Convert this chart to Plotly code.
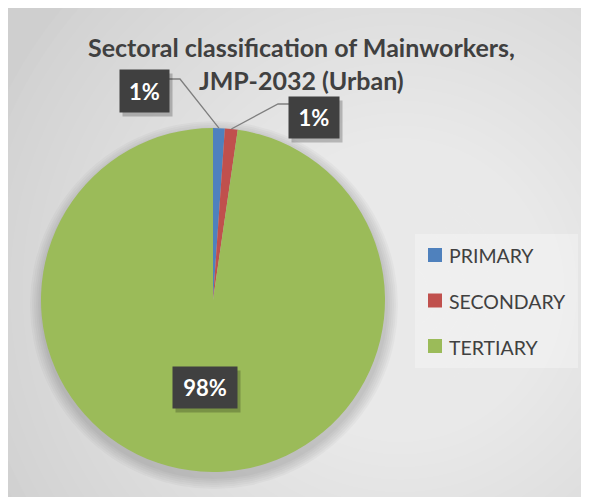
import math

import plotly.graph_objects as go

# Data
LABELS = ["PRIMARY", "SECONDARY", "TERTIARY"]
VALUES = [1.1, 1.2, 97.7]
COLORS = ["#4F81BD", "#C0504D", "#9BBB59"]
TITLE_LINES = ["Sectoral classification of Mainworkers,", "JMP-2032 (Urban)"]

# Canvas geometry (page pixels; the page body adds an 8px offset)
W, H = 589, 497
OFF = 8
CX, CY, R = 213, 300, 172
TEXT = "#404040"
FONT = "Lato, 'Open Sans', sans-serif"


def px(x):
    return (x - OFF) / W


def py(y):
    return 1 - (y - OFF) / H


shapes = []

# soft radial gradient on the chart area
GX, GY = 400, 290
for i in range(34):
    r = 440 - i * 12.5
    shapes.append(dict(type="circle", xref="paper", yref="paper", layer="below",
                       x0=px(GX - r), x1=px(GX + r), y0=py(GY + r), y1=py(GY - r),
                       fillcolor="rgba(255,255,255,0.042)", line=dict(width=0)))

# soft shadow around the pie
for k in range(6):
    rr = R + 12 - 2 * k
    shapes.append(dict(type="circle", xref="paper", yref="paper", layer="below",
                       x0=px(CX + 1 - rr), x1=px(CX + 1 + rr), y0=py(CY + 5 + rr), y1=py(CY + 5 - rr),
                       fillcolor="rgba(0,0,0,0.028)", line=dict(width=0)))

fig = go.Figure(
    go.Pie(
        labels=LABELS,
        values=VALUES,
        sort=False,
        direction="clockwise",
        rotation=0,
        marker=dict(colors=COLORS, line=dict(width=0)),
        textinfo="none",
        hoverinfo="label+percent",
        showlegend=False,
        domain=dict(x=[px(CX - R), px(CX + R)], y=[py(CY + R), py(CY - R)]),
    )
)

annotations = []

# title
for text, ty in zip(TITLE_LINES, [47, 80]):
    annotations.append(dict(text=f"<b>{text}</b>", xref="paper", yref="paper",
                            x=px(301), y=py(ty), xanchor="center", yanchor="middle",
                            showarrow=False, font=dict(family=FONT, size=25, color=TEXT)))

# data labels (dark boxes) with leader lines for the thin slices
LABEL_BOX = [(144, 91, 49, 42), (314, 117, 50, 41), (205, 387, 64, 41)]
ELBOW = [(180, 79, 168), (278, 104, 289), None]
total = sum(VALUES)
cum = 0
for i, v in enumerate(VALUES):
    mid = 2 * math.pi * (cum + v / 2) / total
    cum += v
    ex, ey = CX + R * math.sin(mid), CY - R * math.cos(mid)
    bx, by, bw, bh = LABEL_BOX[i]
    if ELBOW[i] is not None:
        kx, ky, sx = ELBOW[i]
        shapes.append(dict(type="path", xref="paper", yref="paper",
                           path=f"M {px(sx)} {py(ky)} L {px(kx)} {py(ky)} L {px(ex)} {py(ey)}",
                           line=dict(color="#7f7f7f", width=1.3)))
    pct = f"<b>{round(100 * v / total):.0f}%</b>"
    # box shadow
    annotations.append(dict(text="", xref="paper", yref="paper",
                            x=px(bx + 3), y=py(by + 4), width=bw, height=bh,
                            xanchor="center", yanchor="middle",
                            bgcolor="rgba(0,0,0,0.22)", showarrow=False, borderpad=0))
    annotations.append(dict(text=pct, xref="paper", yref="paper",
                            x=px(bx), y=py(by), width=bw, height=bh, valign="middle",
                            xanchor="center", yanchor="middle",
                            bgcolor="#404040", showarrow=False, borderpad=0,
                            font=dict(family=FONT, size=22, color="white")))

# legend drawn by hand so rows can be spaced like the original
shapes.append(dict(type="rect", xref="paper", yref="paper",
                   x0=px(415), x1=px(578), y0=py(368), y1=py(234),
                   fillcolor="rgba(255,255,255,0.3)", line=dict(width=0)))
for i, (lab, col) in enumerate(zip(LABELS, COLORS)):
    ry = 255 + 45.5 * i
    shapes.append(dict(type="rect", xref="paper", yref="paper",
                       x0=px(428), x1=px(442), y0=py(ry + 7), y1=py(ry - 7),
                       fillcolor=col, line=dict(width=0)))
    annotations.append(dict(text=lab, xref="paper", yref="paper",
                            x=px(447), y=py(ry + 1), xanchor="left", yanchor="middle",
                            showarrow=False, font=dict(family=FONT, size=19.5, color=TEXT)))

fig.update_layout(
    width=W,
    height=H,
    margin=dict(l=0, r=0, t=0, b=0),
    paper_bgcolor="#cfcfcf",
    plot_bgcolor="#cfcfcf",
    showlegend=False,
    shapes=shapes,
    annotations=annotations,
)

fig.write_html("out.html")
